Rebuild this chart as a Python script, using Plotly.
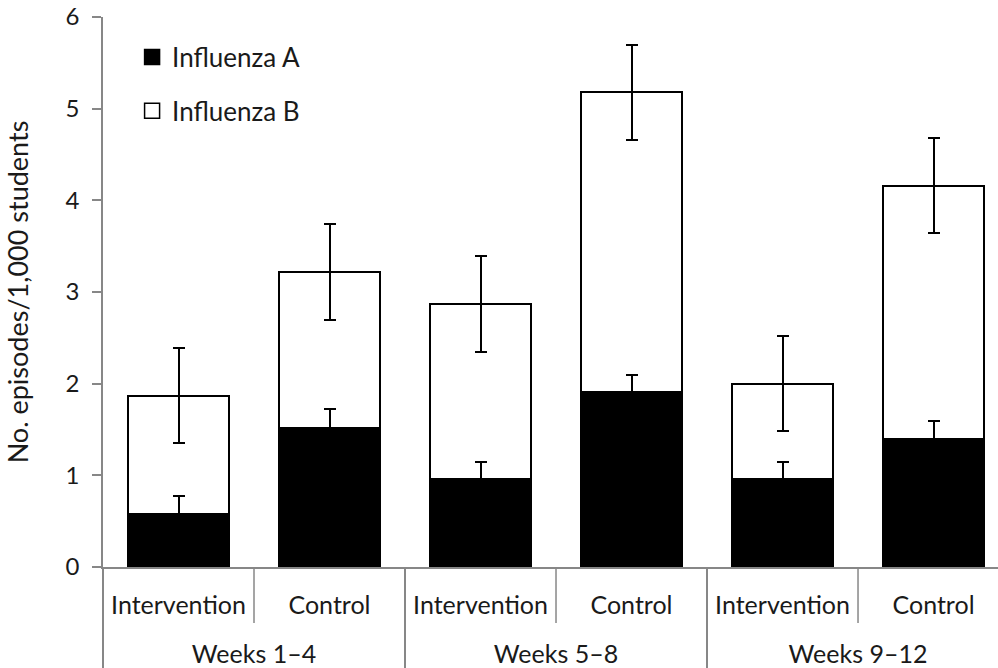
import plotly.graph_objects as go

periods = ["Weeks 1–4", "Weeks 1–4", "Weeks 5–8", "Weeks 5–8", "Weeks 9–12", "Weeks 9–12"]
arms = ["Intervention", "Control", "Intervention", "Control", "Intervention", "Control"]

flu_a = [0.58, 1.52, 0.96, 1.91, 0.96, 1.40]
flu_a_err = [0.19, 0.20, 0.19, 0.19, 0.19, 0.19]
total = [1.87, 3.22, 2.87, 5.18, 2.00, 4.16]
total_err = [0.52, 0.52, 0.52, 0.52, 0.52, 0.52]
flu_b = [t - a for t, a in zip(total, flu_a)]

FONT = "Lato"
TXT = "#1a1a1a"
AX = "#878787"
X_RANGE = [-0.5, 5.427]

# second label row is pushed down by one blank line
period_labels = ["\u00a0<br>" + p for p in periods]

fig = go.Figure()
fig.add_trace(go.Bar(
    x=[period_labels, arms], y=flu_a, name="Influenza A", showlegend=False,
    marker=dict(color="black", line=dict(color="black", width=1.5)),
    error_y=dict(type="data", array=flu_a_err, color="black", thickness=2, width=6),
))
fig.add_trace(go.Bar(
    x=[period_labels, arms], y=flu_b, name="Influenza B", showlegend=False,
    marker=dict(color="rgba(255,255,255,0)", line=dict(color="black", width=2)),
    error_y=dict(type="data", array=total_err, color="black", thickness=2, width=6),
))
# legend entries
fig.add_trace(go.Scatter(x=[None], y=[None], mode="markers", name="Influenza A",
                         legendgroup="a",
                         marker=dict(symbol="square", size=15, color="black",
                                     line=dict(color="black", width=1.5))))
fig.add_trace(go.Scatter(x=[None], y=[None], mode="markers", name="Influenza B",
                         legendgroup="b",
                         marker=dict(symbol="square", size=15, color="white",
                                     line=dict(color="black", width=1.5))))

# tick lines between the two arms inside each period (first label row only)
span = X_RANGE[1] - X_RANGE[0]
for i in range(len(arms) - 1):
    if periods[i] == periods[i + 1]:
        xp = (i + 0.5 - X_RANGE[0]) / span
        fig.add_shape(type="line", xref="paper", yref="paper", layer="above",
                      x0=xp, x1=xp, y0=0, y1=-56 / 550,
                      line=dict(color=AX, width=1.5))

fig.update_layout(
    width=998, height=668,
    margin=dict(l=103, r=0, t=17, b=101),
    paper_bgcolor="white", plot_bgcolor="white",
    barmode="stack", bargap=0.33,
    font=dict(family=FONT, size=25, color=TXT),
    legend=dict(x=0.0325, y=0.97, xanchor="left", yanchor="top",
                traceorder="grouped", tracegroupgap=17,
                font=dict(family=FONT, size=26, color=TXT),
                bgcolor="rgba(0,0,0,0)"),
    xaxis=dict(type="multicategory", range=X_RANGE, automargin=False,
               showline=True, linecolor=AX, linewidth=1.5,
               ticks="", ticklabelstandoff=15,
               showdividers=True, dividercolor=AX, dividerwidth=1.5,
               showgrid=False, zeroline=False,
               tickfont=dict(family=FONT, size=25, color=TXT)),
    yaxis=dict(range=[0, 6], dtick=1, showline=True, linecolor=AX, linewidth=1.5,
               automargin=False,
               ticks="outside", ticklen=9, tickcolor=AX, tickwidth=1.5,
               ticklabelstandoff=8, ticklabeloverflow="allow",
               showgrid=False, zeroline=False,
               tickfont=dict(family=FONT, size=24, color=TXT),
               title=dict(text="No. episodes/1,000 students",
                          font=dict(family=FONT, size=27, color=TXT), standoff=29)),
)

fig.write_html("out.html", config={"displayModeBar": False},
               post_script="document.body.style.margin='0';document.body.style.overflow='hidden';")
